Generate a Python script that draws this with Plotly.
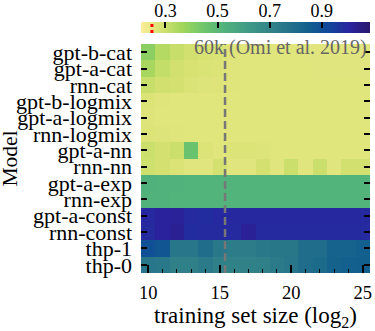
import numpy as np
import plotly.graph_objects as go

sizes_log2 = list(range(10, 26))
models = ["gpt-b-cat", "gpt-a-cat", "rnn-cat", "gpt-b-logmix", "gpt-a-logmix",
          "rnn-logmix", "gpt-a-nn", "rnn-nn", "gpt-a-exp", "rnn-exp",
          "gpt-a-const", "rnn-const", "thp-1", "thp-0"]

gpt_b_cat = [0.40, 0.335, 0.305, 0.29, 0.28, 0.275, 0.265, 0.263, 0.262, 0.262, 0.262, 0.261, 0.261, 0.261, 0.261, 0.261]
gpt_a_cat = [0.355, 0.31, 0.29, 0.28, 0.275, 0.27, 0.265, 0.263, 0.262, 0.262, 0.262, 0.262, 0.261, 0.261, 0.261, 0.261]
rnn_cat = [0.305, 0.29, 0.285, 0.275, 0.268, 0.266, 0.264, 0.263, 0.262, 0.262, 0.262, 0.262, 0.262, 0.262, 0.262, 0.262]
gpt_b_logmix = [0.27, 0.264, 0.263, 0.262, 0.262, 0.262, 0.262, 0.262, 0.262, 0.262, 0.262, 0.262, 0.262, 0.262, 0.262, 0.262]
gpt_a_logmix = [0.266, 0.263, 0.263, 0.262, 0.262, 0.262, 0.262, 0.262, 0.262, 0.262, 0.262, 0.262, 0.262, 0.262, 0.262, 0.262]
rnn_logmix = [0.27, 0.268, 0.264, 0.263, 0.262, 0.262, 0.262, 0.262, 0.262, 0.262, 0.262, 0.262, 0.262, 0.262, 0.262, 0.262]
gpt_a_nn = [0.30, 0.285, 0.30, 0.462, 0.27, 0.263, 0.27, 0.27, 0.268, 0.263, 0.263, 0.263, 0.263, 0.263, 0.263, 0.263]
rnn_nn = [0.295, 0.285, 0.272, 0.26, 0.26, 0.285, 0.26, 0.261, 0.285, 0.26, 0.30, 0.26, 0.30, 0.26, 0.29, 0.29]
gpt_a_exp = [0.53, 0.527, 0.524, 0.523, 0.523, 0.523, 0.523, 0.523, 0.523, 0.523, 0.523, 0.523, 0.523, 0.523, 0.523, 0.523]
rnn_exp = [0.525, 0.524, 0.523, 0.523, 0.523, 0.523, 0.523, 0.523, 0.523, 0.523, 0.523, 0.523, 0.523, 0.523, 0.523, 0.523]
gpt_a_const = [0.995, 1.01, 1.015, 0.99, 0.985, 0.993, 0.993, 0.993, 0.993, 0.993, 0.993, 0.993, 0.993, 0.993, 0.993, 0.993]
rnn_const = [0.99, 1.01, 1.025, 0.985, 0.99, 0.99, 0.99, 1.02, 0.99, 0.99, 0.99, 0.99, 0.99, 0.99, 0.99, 0.99]
thp_1 = [0.895, 0.878, 0.757, 0.757, 0.795, 0.75, 0.735, 0.735, 0.75, 0.755, 0.755, 0.795, 0.795, 0.83, 0.83, 0.84]
thp_0 = [0.757, 0.75, 0.716, 0.716, 0.74, 0.716, 0.71, 0.71, 0.716, 0.74, 0.757, 0.795, 0.80, 0.835, 0.84, 0.845]

z_rows = [gpt_b_cat, gpt_a_cat, rnn_cat, gpt_b_logmix, gpt_a_logmix, rnn_logmix,
          gpt_a_nn, rnn_nn, gpt_a_exp, rnn_exp, gpt_a_const, rnn_const, thp_1, thp_0]

z_min, z_max = 0.206, 1.085
cbar_ticks = [0.3, 0.5, 0.7, 0.9]
cbar_ticktext = ["0.3", "0.5", "0.7", "0.9"]
reference_value = 0.248
omi_train_size = 60000
x_ticks = [10, 15, 20, 25]

FONT = "Liberation Serif"
W, H = 375, 331
L, R, T, B = 141, 5, 0, 58
pw, ph = W - L - R, H - T - B
main_top_px, cb_top_px, cb_bot_px = 44, 22, 33
main_dom = [0, (H - B - main_top_px) / ph]
cb_dom = [(H - B - cb_bot_px) / ph, (H - B - cb_top_px) / ph]

fig = go.Figure()
fig.add_trace(go.Heatmap(
    z=z_rows, x=sizes_log2, y=models,
    colorscale="haline_r", zmin=z_min, zmax=z_max, showscale=False,
    xaxis="x", yaxis="y",
))

# colour bar drawn as its own small axis (gradient across the colour range)
cb_vals = np.linspace(z_min, z_max, 300)
fig.add_trace(go.Heatmap(
    z=[cb_vals], x=cb_vals, y=[0],
    colorscale="haline_r", zmin=z_min, zmax=z_max, showscale=False,
    xaxis="x2", yaxis="y2", hoverinfo="skip",
))

fig.add_shape(type="line", xref="x2", yref="y2 domain", x0=reference_value, x1=reference_value,
              y0=0, y1=1, line=dict(color="red", width=3, dash="dot"))

line_x = np.log2(omi_train_size) - 0.5
fig.add_shape(type="line", xref="x", yref="y domain", x0=line_x, x1=line_x, y0=0, y1=1,
              line=dict(color="#777777", width=2.5, dash="8px,4px"))

fig.add_annotation(text="60k (Omi et al. 2019)", xref="x", x=25.45, xanchor="right",
                   yref="y domain", y=1 - 3 / 229, yanchor="middle", showarrow=False,
                   font=dict(family=FONT, size=20, color="#666666"))

# y-axis title
fig.add_annotation(text="Model", textangle=-90, xref="paper", x=(10 - L) / pw, xanchor="center",
                   yref="paper", y=main_dom[1] / 2, yanchor="middle", showarrow=False,
                   borderpad=0, font=dict(family=FONT, size=21.5, color="black"))

fig.update_layout(
    xaxis=dict(domain=[0, 1], anchor="y", range=[9.5, 25.5], tickvals=x_ticks,
               ticks="inside", ticklen=8, tickwidth=1.5, tickcolor="black",
               showgrid=False, zeroline=False, showline=False, automargin=False,
               ticklabelstandoff=6,
               minor=dict(ticks="inside", ticklen=4, tickwidth=1.2, tickcolor="black",
                          dtick=1, tick0=10, showgrid=False),
               tickfont=dict(family=FONT, size=18.5, color="black"),
               title=dict(text="training set size (log<sub>2</sub>)", standoff=5,
                          font=dict(family=FONT, size=23, color="black"))),
    yaxis=dict(domain=main_dom, anchor="x", autorange="reversed",
               tickmode="array", tickvals=models, ticktext=models,
               ticks="inside", ticklen=6, tickwidth=1.5, tickcolor="black",
               mirror="ticks", showgrid=False, zeroline=False, showline=False,
               automargin=False, ticklabelstandoff=8,
               tickfont=dict(family=FONT, size=22, color="black")),
    xaxis2=dict(domain=[0, 1], anchor="y2", range=[z_min, z_max], side="top",
                tickvals=cbar_ticks, ticktext=cbar_ticktext,
                ticks="inside", ticklen=6, tickwidth=1.5, tickcolor="black",
                showgrid=False, zeroline=False, showline=False, automargin=False,
                tickfont=dict(family=FONT, size=18, color="black")),
    yaxis2=dict(domain=cb_dom, anchor="x2", range=[-0.5, 0.5], showticklabels=False,
                ticks="", showgrid=False, zeroline=False, showline=False, automargin=False),
    width=W, height=H, margin=dict(l=L, r=R, t=T, b=B),
    paper_bgcolor="white", plot_bgcolor="white",
    font=dict(family=FONT, color="black"), showlegend=False,
)

fig.write_html("out.html", config={"displayModeBar": False},
               post_script="document.body.style.margin='0';")
